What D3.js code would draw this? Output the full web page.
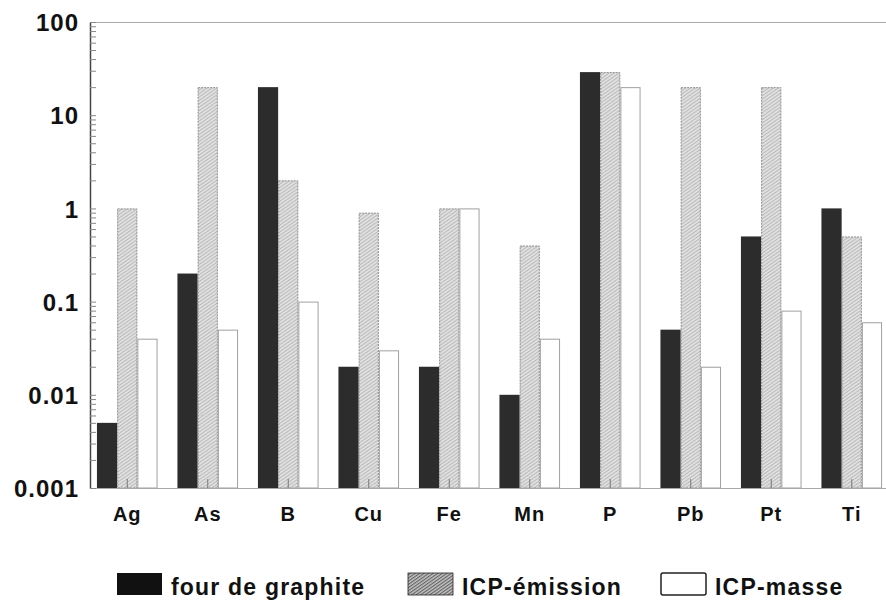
<!DOCTYPE html>
<html><head><meta charset="utf-8">
<script src="https://cdn.jsdelivr.net/npm/d3@7"></script>
<style>
body{margin:0;background:#fff;}
text{font-family:"Liberation Sans",Arial,sans-serif;font-weight:bold;fill:#111;}
</style></head>
<body>
<svg id="chart" width="886" height="600"></svg>
<script>
const categories = ["Ag","As","B","Cu","Fe","Mn","P","Pb","Pt","Ti"];
const seriesNames = ["four de graphite","ICP-émission","ICP-masse"];
const fourGraphite = [0.005,0.2,20,0.02,0.02,0.01,29,0.05,0.5,1];
const icpEmission  = [1,20,2,0.9,1,0.4,29,20,20,0.5];
const icpMasse     = [0.04,0.05,0.1,0.03,1,0.04,20,0.02,0.08,0.06];
const yTickLabels = ["0.001","0.01","0.1","1","10","100"];

const seriesValues = [fourGraphite, icpEmission, icpMasse];
const svg = d3.select("#chart");

const defs = svg.append("defs");
const pat = defs.append("pattern").attr("id","hatch").attr("patternUnits","userSpaceOnUse")
  .attr("width",2.8).attr("height",2.8).attr("patternTransform","rotate(-35)");
pat.append("rect").attr("width",2.8).attr("height",2.8).attr("fill","#e0e0e0");
pat.append("line").attr("x1",0).attr("y1",0.5).attr("x2",2.8).attr("y2",0.5)
  .attr("stroke","#aaaaaa").attr("stroke-width",0.7);
const pat2 = defs.append("pattern").attr("id","hatchDense").attr("patternUnits","userSpaceOnUse")
  .attr("width",2.6).attr("height",2.6).attr("patternTransform","rotate(-35)");
pat2.append("rect").attr("width",2.6).attr("height",2.6).attr("fill","#c4c4c4");
pat2.append("line").attr("x1",0).attr("y1",0.6).attr("x2",2.6).attr("y2",0.6)
  .attr("stroke","#555").attr("stroke-width",1);

const pLeft = 90, pTop = 22, pBottom = 488, pRight = 886;

const y = d3.scaleLog().domain([0.001,100]).range([pBottom, pTop]);
const x = d3.scaleBand().domain(categories).range([87, 892]).paddingInner(0.247).paddingOuter(0.1235);
const xs = d3.scaleBand().domain(seriesNames).range([0, x.bandwidth()]);

const fills = ["#2c2c2c","url(#hatch)","#ffffff"];
const strokes = ["none","#8f8f8f","#a0a0a0"];
const dashes = [null,"2,1",null];

// bars
const data = [];
categories.forEach((c,i)=>seriesNames.forEach((s,j)=>data.push({c,s,j,v:seriesValues[j][i]})));
svg.append("g").selectAll("rect").data(data).join("rect")
  .attr("x", d => x(d.c) + xs(d.s) + (d.j===0?0:0.5))
  .attr("y", d => y(d.v) + (d.j===0?0:0.5))
  .attr("width", d => xs.bandwidth() - (d.j===0?0:1))
  .attr("height", d => pBottom - y(d.v) - (d.j===0?0:0.5))
  .attr("fill", d => fills[d.j])
  .attr("stroke", d => strokes[d.j])
  .attr("stroke-dasharray", d => dashes[d.j])
  .attr("stroke-width", 1);

// top frame line
svg.append("line").attr("x1",pLeft).attr("x2",pRight).attr("y1",pTop+0.5).attr("y2",pTop+0.5)
  .attr("stroke","#aaa").attr("stroke-width",1.2);

// x axis
const xAxis = svg.append("g").attr("transform",`translate(0,${pBottom})`)
  .call(d3.axisBottom(x).tickSize(-9).tickPadding(19).tickSizeOuter(0));
xAxis.select(".domain").attr("stroke","#aaa").attr("d",`M${pLeft},0.5H${pRight}`);
xAxis.selectAll(".tick line").attr("stroke","#777").attr("stroke-width",1);
xAxis.selectAll(".tick text").attr("font-size","20px").attr("fill","#111")
  .attr("font-family","Liberation Sans, Arial, sans-serif").attr("font-weight","bold")
  .attr("letter-spacing","1px");

// y axis
const major = yTickLabels.map(Number);
const yAxis = svg.append("g").attr("transform",`translate(${pLeft},0)`)
  .call(d3.axisLeft(y).tickValues(y.ticks()).tickSize(-6).tickPadding(11).tickSizeOuter(0)
    .tickFormat(d => { const k = major.findIndex(m => Math.abs(m-d)/m < 1e-6); return k>=0 ? yTickLabels[k] : ""; }));
yAxis.select(".domain").attr("stroke","#444").attr("stroke-width",1.5);
yAxis.selectAll(".tick line").attr("stroke","#888").attr("stroke-width",1);
yAxis.selectAll(".tick text").attr("font-size","24px").attr("fill","#111")
  .attr("font-family","Liberation Sans, Arial, sans-serif").attr("font-weight","bold")
  .attr("letter-spacing","1px").attr("dy","0.36em");

// legend
const legendBoxes = [117, 408, 661];
const legendFills = ["#111","url(#hatchDense)","#fff"];
const lg = svg.append("g");
seriesNames.forEach((s,j)=>{
  lg.append("rect").attr("x",legendBoxes[j]).attr("y",573).attr("width",45).attr("height",22)
    .attr("fill",legendFills[j]).attr("stroke", j===0?"none":"#222").attr("stroke-width", j===2?1.5:0.8)
    .attr("rx", j===2?2:0);
  lg.append("text").attr("x",legendBoxes[j]+54).attr("y",595).attr("font-size","23px")
    .attr("letter-spacing","1.2px").text(s);
});
</script>
</body></html>
